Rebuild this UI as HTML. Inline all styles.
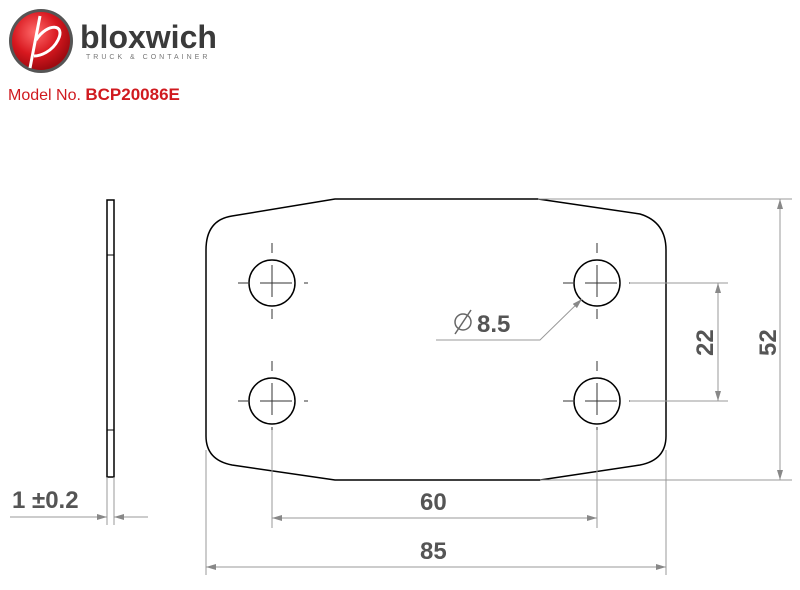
<!DOCTYPE html>
<html><head><style>
body{margin:0;background:#fff;width:800px;height:590px;overflow:hidden;position:relative;font-family:"Liberation Sans",sans-serif}
</style></head><body>
<svg width="800" height="590" style="position:absolute;left:0;top:0">
<defs>
<radialGradient id="g" cx="40%" cy="35%" r="65%"><stop offset="0" stop-color="#ff6a6a"/><stop offset="0.6" stop-color="#d8181f"/><stop offset="1" stop-color="#a00a10"/></radialGradient>
<marker id="a" markerWidth="10" markerHeight="6" refX="10" refY="3" orient="auto-start-reverse" markerUnits="userSpaceOnUse"><path d="M0,0 L10,3 L0,6 Z" fill="#888"/></marker>
</defs>
<circle cx="41" cy="41" r="32" fill="#555"/>
<circle cx="41" cy="41" r="29" fill="url(#g)"/>
<path d="M30,68 L40,16 M36,40 C48,22 66,24 58,40 C52,52 40,56 34,56" stroke="#fff" stroke-width="3" fill="none"/>
<text x="80" y="48" font-family="Liberation Sans" font-weight="bold" font-size="32" fill="#3a3a3a">bloxwich</text>
<text x="86" y="59" font-family="Liberation Sans" font-size="7" letter-spacing="3" fill="#777">TRUCK &amp; CONTAINER</text>
<text x="8" y="100" font-family="Liberation Sans" font-size="16" fill="#d01a1f">Model No. <tspan font-weight="bold" font-size="17">BCP20086E</tspan></text>

<g stroke="#000" stroke-width="1.5" fill="none">
<path d="M335,199 L538,199 L640,214 Q666,222 666,250 L666,436 Q666,460 640,465 L540,480 L335,480 L232,465 Q206,460 206,436 L206,250 Q206,220 232,216 Z"/>
<rect x="107" y="200" width="7" height="277"/>
<circle cx="272" cy="283" r="23"/><circle cx="597" cy="283" r="23"/>
<circle cx="272" cy="401" r="23"/><circle cx="597" cy="401" r="23"/>
</g>
<g stroke="#000" stroke-width="1">
<line x1="107" y1="255" x2="114" y2="255"/><line x1="107" y1="430" x2="114" y2="430"/>
</g>
<g stroke="#333" stroke-width="1">
<path d="M260,283h24M272,271v24M585,283h24M597,271v24M260,401h24M272,389v24M585,401h24M597,389v24"/>
</g>
<g stroke="#333" stroke-width="1" stroke-dasharray="10,12">
<path d="M238,283h70M272,243v80M563,283h70M597,243v80M238,401h70M272,361v80M563,401h70M597,361v80"/>
</g>
<g stroke="#999" stroke-width="1" fill="none">
<line x1="538" y1="199" x2="792" y2="199"/>
<line x1="540" y1="480" x2="792" y2="480"/>
<line x1="630" y1="283" x2="728" y2="283"/>
<line x1="630" y1="401" x2="728" y2="401"/>
<line x1="780" y1="199" x2="780" y2="480" marker-start="url(#a)" marker-end="url(#a)"/>
<line x1="718" y1="283" x2="718" y2="401" marker-start="url(#a)" marker-end="url(#a)"/>
<line x1="272" y1="430" x2="272" y2="528"/>
<line x1="597" y1="430" x2="597" y2="528"/>
<line x1="272" y1="518" x2="597" y2="518" marker-start="url(#a)" marker-end="url(#a)"/>
<line x1="206" y1="450" x2="206" y2="575"/>
<line x1="666" y1="450" x2="666" y2="575"/>
<line x1="206" y1="567" x2="666" y2="567" marker-start="url(#a)" marker-end="url(#a)"/>
<line x1="107" y1="477" x2="107" y2="525"/>
<line x1="114" y1="477" x2="114" y2="525"/>
<line x1="10" y1="517" x2="107" y2="517" marker-end="url(#a)"/>
<line x1="148" y1="517" x2="114" y2="517" marker-end="url(#a)"/>
<path d="M436,340 L540,340 L582,299" marker-end="url(#a)"/>
</g>
<circle cx="463" cy="322" r="8" stroke="#666" stroke-width="1.5" fill="none"/>
<line x1="455" y1="334" x2="471" y2="310" stroke="#666" stroke-width="1.5"/>
<g font-family="Liberation Sans" font-size="24" font-weight="bold" fill="#555">
<text x="477" y="332">8.5</text>
<text x="420" y="510">60</text>
<text x="420" y="559">85</text>
<text x="12" y="508">1 ±0.2</text>
<text transform="translate(713,356) rotate(-90)">22</text>
<text transform="translate(776,356) rotate(-90)">52</text>
</g>
</svg>
</body></html>
